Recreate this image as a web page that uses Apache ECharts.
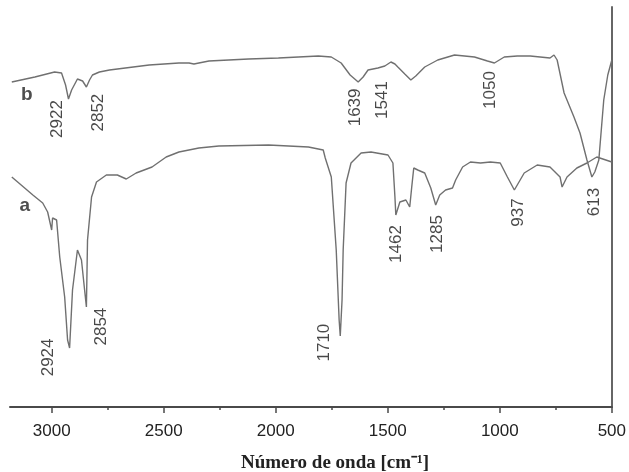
<!DOCTYPE html>
<html>
<head>
<meta charset="utf-8">
<script src="https://cdn.jsdelivr.net/npm/echarts@6/dist/echarts.min.js"></script>
<style>html,body{margin:0;padding:0;background:#fff}#c{width:629px;height:472px}</style>
</head>
<body>
<div id="c"></div>
<script>
// Wavenumber ticks
var majorTicks = [500, 1000, 1500, 2000, 2500, 3000];
var minorTicks = [750, 1250, 1750, 2250, 2750];

// Spectrum b (upper): [wavenumber, relative transmittance]
var spectrumB = [
  [3178,81.25],[3075,82.5],[2987,83.75],[2956,83.5],[2938,80.5],[2925,77],[2911,79.25],
  [2885,82],[2862,81.5],[2845,80],[2831,81.75],[2818,83],[2787,83.75],[2742,84.25],
  [2565,85.5],[2432,86],[2387,86],[2365,85.75],[2343,86],[2298,86.5],[2121,87],
  [1988,87.25],[1899,87.5],[1810,87.75],[1752,87.5],[1708,86],[1668,83],[1632,81.25],
  [1610,82.5],[1588,84.25],[1544,84.75],[1513,85.25],[1486,86.25],[1468,85.75],[1455,85],
  [1424,83.25],[1397,81.75],[1375,82.75],[1335,85],[1277,86.75],[1202,88],[1113,87.5],
  [1055,86.5],[1024,86],[1002,86.75],[980,87.5],[922,87.75],[864,87.75],[776,87.25],
  [758,88],[744,86.75],[713,78.5],[669,72.5],[642,68.5],[611,61.75],[589,57.5],
  [576,58.75],[558,61.75],[536,76.75],[518,83],[500,86.75]
];

// Spectrum a (lower)
var spectrumA = [
  [3178,57.5],[3084,53],[3040,51],[3018,48.75],[3000,44.25],[2996,47.25],[2978,46.75],
  [2964,37.5],[2942,27.5],[2929,16.75],[2920,14.75],[2907,29.25],[2885,39.25],[2867,36.75],
  [2853,29.25],[2845,25],[2840,41.75],[2822,52.5],[2800,56.25],[2756,58],[2707,58],
  [2667,57],[2623,58.5],[2552,60],[2489,62.5],[2432,63.75],[2343,64.75],[2254,65.25],
  [2032,65.5],[1854,65],[1788,64.25],[1779,62.25],[1752,57.5],[1730,39.25],[1717,21.75],
  [1712,17.75],[1704,26.75],[1699,39.25],[1686,56],[1664,61],[1619,63.5],[1575,63.75],
  [1499,63],[1477,61],[1468,52.5],[1464,48],[1446,51.25],[1419,51.75],[1402,50],
  [1393,55],[1384,59.75],[1366,59.25],[1335,58.5],[1308,54.75],[1286,50.5],[1268,53],
  [1242,54.25],[1211,54.75],[1197,56.75],[1166,60],[1131,61.25],[1086,61],[1042,61.25],
  [998,61],[966,57.5],[935,54.25],[891,58.5],[833,60.5],[776,60],[731,57.5],[722,55],
  [700,57.5],[656,59.75],[611,61],[567,62.5],[500,61.25]
];

// Peak annotations: [wavenumber, level, text]
var peakLabels = [
  [2973,72,'2922'],[2791,73.6,'2852'],[1646,74.9,'1639'],[1526,76.75,'1541'],[1042,79.25,'1050'],
  [3013,12.4,'2924'],[2778,20.1,'2854'],[1783,16.1,'1710'],[1464,40.75,'1462'],
  [1277,43.25,'1285'],[918,48.6,'937'],[580,51.25,'613']
];
// Curve identifiers
var curveLetters = [[3111,78,'b'],[3120,50.25,'a']];

var xTitle = 'Número de onda [cm⁻¹]';

var chart = echarts.init(document.getElementById('c'), null, {renderer:'canvas'});
var axisColor = '#4a4a4a';
chart.setOption({
  animation:false,
  backgroundColor:'#fff',
  grid:{left:10,right:14,top:7,bottom:65},
  xAxis:[{
    type:'value', inverse:true, min:500, max:3186,
    axisLine:{show:true, lineStyle:{color:axisColor,width:2}},
    axisTick:{show:true, customValues:majorTicks, length:6, lineStyle:{color:axisColor,width:1.5}},
    axisLabel:{show:true, customValues:majorTicks, margin:16, fontSize:17, color:'#222', fontFamily:'Liberation Sans',
               formatter:function(v){return String(v);}},
    splitLine:{show:false}
  },{
    type:'value', inverse:true, min:500, max:3186, position:'bottom',
    axisLine:{show:false},
    axisTick:{show:true, customValues:minorTicks, length:3, lineStyle:{color:axisColor,width:1.5}},
    axisLabel:{show:false},
    splitLine:{show:false}
  }],
  yAxis:{
    type:'value', min:0, max:100, position:'right',
    axisLine:{show:true, lineStyle:{color:'#666',width:2}},
    axisTick:{show:false}, axisLabel:{show:false}, splitLine:{show:false}
  },
  graphic:[{
    type:'text', x:335, y:463,
    style:{text:xTitle, fontFamily:'Liberation Serif', fontWeight:'bold', fontSize:19, fill:'#222', textAlign:'center', textVerticalAlign:'middle'}
  }],
  series:[
    {type:'line', data:spectrumB, showSymbol:false, lineStyle:{color:'#707070',width:1.4}},
    {type:'line', data:spectrumA, showSymbol:false, lineStyle:{color:'#707070',width:1.4}},
    {type:'scatter', symbolSize:0,
     data:peakLabels.map(function(p){return {value:[p[0],p[1]], name:p[2]};}),
     label:{show:true, position:'inside', rotate:90, formatter:function(d){return d.name;},
            fontSize:17, color:'#1a1a1a', fontFamily:'Liberation Sans'}},
    {type:'scatter', symbolSize:0,
     data:curveLetters.map(function(p){return {value:[p[0],p[1]], name:p[2]};}),
     label:{show:true, position:'inside', formatter:function(d){return d.name;},
            fontSize:19, fontWeight:'bold', color:'#222', fontFamily:'Liberation Sans'}}
  ]
});
</script>
</body>
</html>
